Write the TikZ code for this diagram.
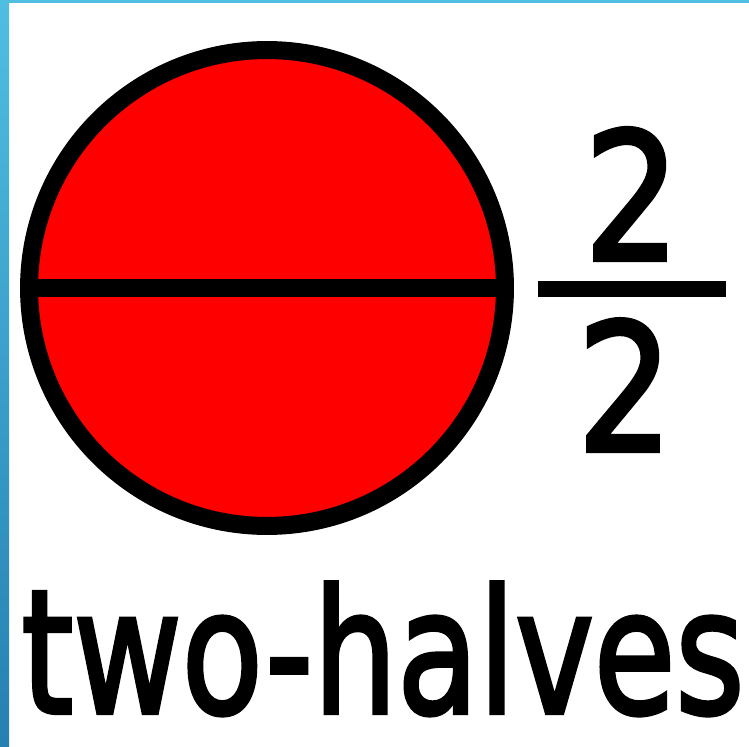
\documentclass[tikz,border=0pt]{standalone}
\usepackage{fontspec}
\setmainfont{DejaVu Sans}
\newfontfamily\handfont[FakeBold=2.5]{DejaVu Sans}
\usepackage{graphicx}
\usepackage{xcolor}
\usetikzlibrary{positioning}
\definecolor{halfred}{RGB}{255,0,0}
\definecolor{frametop}{RGB}{80,190,225}
\definecolor{framebot}{RGB}{38,128,178}

\begin{document}
\begin{tikzpicture}[
    x=0.02cm, y=-0.02cm,
    node distance=0.4cm,
    disk/.style={circle, draw=black, fill=halfred, line width=0.36cm,
                 minimum size=9.52cm, inner sep=0pt},
    divider/.style={line width=0.35cm, color=black},
    fracbar/.style={fill=black, minimum width=3.78cm, minimum height=0.34cm, inner sep=0pt},
    numeral/.style={inner sep=0pt, font=\handfont\fontsize{101}{101}\selectfont},
    caption/.style={inner sep=0pt, anchor=base west, font=\handfont\fontsize{98}{98}\selectfont},
]
\useasboundingbox (0,0) rectangle (749,746);
\fill[white] (0,0) rectangle (749,746);
% frame edges
\fill[top color=frametop, bottom color=framebot] (0,0) rectangle (9,746);
\fill[frametop] (0,0) rectangle (749,3);

% the circle cut in two halves
\node[disk] (whole) at (267,288) {};
\draw[divider] (whole.west) -- (whole.east);

% fraction
\node[fracbar] (bar) at (632,289) {};
\node[numeral, above=0.4cm of bar] (num) {\scalebox{0.85}[1]{2}};
\node[numeral, below=0.42cm of bar, xshift=-0.14cm] (den) {\scalebox{0.85}[1]{2}};

% caption
\node[caption] (words) at (21,713) {\scalebox{0.77}[1]{two-halves}};
\end{tikzpicture}
\end{document}
